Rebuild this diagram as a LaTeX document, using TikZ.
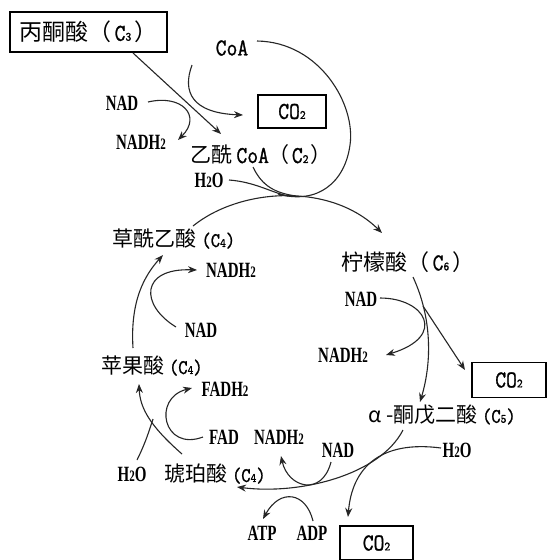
\documentclass[tikz,border=0pt]{standalone}
\usepackage{fontspec}
\usepackage{graphicx}
\usetikzlibrary{arrows.meta}
\newfontfamily\cjk{Noto Sans CJK SC}
\newfontfamily\ltt{Latin Modern Mono}[FakeBold=1.2]
\newfontfamily\lser{Liberation Serif}
\newcommand\tl[2][1.4]{\scalebox{1}[#1]{#2}}
\newcommand\lo[1]{{\fontsize{11}{11}\selectfont #1}}
\tikzset{
  lbl/.style={inner sep=0pt, text=black},
  nadlbl/.style={lbl, font=\lser\bfseries\fontsize{15}{15}\selectfont},
  coalbl/.style={lbl, font=\ltt\bfseries\fontsize{21}{21}\selectfont},
  cnlbl/.style={lbl, font=\cjk\fontsize{21}{21}\selectfont},
  boxed/.style={draw, line width=1.3pt, inner sep=0pt},
  ln/.style={line width=1.1pt, draw=black!85},
  arr/.style={ln, -{Stealth[length=9pt,width=7pt]}}
}
\newcommand\mono[1]{{\ltt\bfseries\fontsize{21}{21}\selectfont\tl[1.15]{#1}}}
\newcommand\monos[1]{{\ltt\fontsize{18}{18}\selectfont\tl[1.15]{#1}}}
\begin{document}
\begin{tikzpicture}[x=1pt,y=-1pt]
\useasboundingbox[fill=white] (0,0) rectangle (547,560);
% ---------- labels ----------
\node[boxed, minimum width=157pt, minimum height=40pt, font=\cjk\fontsize{23}{23}\selectfont] (pyr) at (88.5,32) {丙酮酸（\hspace{3pt}\mono{C\lo3}\hspace{3pt}）};
\node[coalbl] (coa) at (232,48) {\tl[1.15]{CoA}};
\node[nadlbl] (nad1) at (122,103) {\tl[1.45]{NAD}};
\node[boxed, minimum width=68pt, minimum height=33pt] (co2a) at (292,111.5) {\mono{CO\lo2}};
\node[nadlbl] (nadh1) at (141,142) {\tl[1.45]{NADH\lo2}};
\node[cnlbl] (acoa) at (261,155) {乙酰\hspace{4pt}\mono{CoA}（\hspace{2pt}\mono{C\lo2}\hspace{2pt}）};
\node[nadlbl] (h2o1) at (209,180) {\tl[1.45]{H\lo2O}};
\node[lbl, font=\cjk\fontsize{22}{22}\selectfont] (cit) at (408,262) {柠檬酸（\hspace{3pt}\mono{C\lo6}\hspace{3pt}）};
\node[nadlbl] (nad2) at (361,299) {\tl[1.45]{NAD}};
\node[nadlbl] (nadh2) at (343,355) {\tl[1.45]{NADH\lo2}};
\node[boxed, minimum width=74pt, minimum height=35pt] (co2b) at (509,380) {\mono{CO\lo2}};
\node[cnlbl] (akg) at (442,415) {α -酮戊二酸 \monos{(C\lo5)}};
\node[nadlbl] (h2o2) at (457,450) {\tl[1.45]{H\lo2O}};
\node[nadlbl] (nad3) at (338,450) {\tl[1.45]{NAD}};
\node[nadlbl] (fad) at (224,437) {\tl[1.45]{FAD}};
\node[nadlbl] (nadh3) at (279,437) {\tl[1.45]{NADH\lo2}};
\node[cnlbl] (suc) at (215,474) {琥珀酸 \monos{(C\lo4)}};
\node[nadlbl] (h2o3) at (132,474) {\tl[1.45]{H\lo2O}};
\node[nadlbl] (fadh) at (225,389) {\tl[1.45]{FADH\lo2}};
\node[cnlbl] (mal) at (152,366) {苹果酸 \monos{(C\lo4)}};
\node[nadlbl] (nad4) at (201,330) {\tl[1.45]{NAD}};
\node[nadlbl] (nadh4) at (231,270) {\tl[1.45]{NADH\lo2}};
\node[cnlbl] (oaa) at (174,239) {草酰乙酸 \monos{(C\lo4)}};
\node[nadlbl] (atp) at (262,533) {\tl[1.45]{ATP}};
\node[nadlbl] (adp) at (312,533) {\tl[1.45]{ADP}};
\node[boxed, minimum width=73pt, minimum height=34pt] (co2c) at (376.5,543) {\mono{CO\lo2}};
% ---------- end points ----------
\coordinate (p1) at (133,53);   \coordinate (p1e) at (221,134);
\coordinate (t1) at (192,65);
\coordinate (n1) at (148,102);  \coordinate (n1e) at (178,140);
\coordinate (oaaS) at (193,226); \coordinate (citN) at (382,233);
\coordinate (acS) at (253,167); \coordinate (m1) at (296,196);
\coordinate (h1) at (229,180);  \coordinate (m2) at (288,196);
\coordinate (coaE) at (257,41); \coordinate (m3) at (278,194);
\coordinate (citS) at (413,277); \coordinate (akgN) at (420,402);
\coordinate (b1) at (423,306);  \coordinate (co2bW) at (465,370);
\coordinate (n2) at (380,298);  \coordinate (n2e) at (386,355);
\coordinate (akgS) at (403,430); \coordinate (sucE) at (237,487);
\coordinate (h2) at (441,448);  \coordinate (co2cN) at (348,517);
\coordinate (n3) at (331,462);  \coordinate (n3e) at (281,456);
\coordinate (ad) at (313,521);  \coordinate (at) at (263,519);
\coordinate (sucN) at (182,454); \coordinate (malS) at (139,384);
\coordinate (h3) at (137,460);  \coordinate (m4) at (153,419);
\coordinate (fa) at (203,437);  \coordinate (fae) at (192,388);
\coordinate (malN) at (133,348); \coordinate (oaaE) at (163,255);
\coordinate (n4) at (176,327);  \coordinate (n4e) at (197,270);
% ---------- connectors ----------
\draw[arr] (p1) -- (p1e);
\draw[arr] (t1) .. controls (182,92) and (192,113) .. (243,115);
\draw[arr] (n1) .. controls (182,94) and (202,116) .. (n1e);
\draw[arr] (oaaS) .. controls (240,188) and (330,182) .. (citN);
\draw[ln] (acS) .. controls (262,186) and (275,193) .. (m1);
\draw[ln] (h1) .. controls (255,182) and (270,192) .. (m2);
\draw[ln] (coaE) .. controls (320,42) and (356,105) .. (350,145) .. controls (345,182) and (318,205) .. (m3);
\draw[arr] (citS) .. controls (432,318) and (432,362) .. (akgN);
\draw[arr] (b1) -- (co2bW);
\draw[arr] (n2) .. controls (425,298) and (448,336) .. (n2e);
\draw[arr] (akgS) .. controls (380,475) and (300,495) .. (sucE);
\draw[arr] (h2) .. controls (380,440) and (352,468) .. (co2cN);
\draw[arr] (n3) .. controls (322,497) and (288,488) .. (n3e);
\draw[arr] (ad) .. controls (306,492) and (280,488) .. (at);
\draw[arr] (sucN) .. controls (150,426) and (140,408) .. (malS);
\draw[ln] (h3) .. controls (146,442) and (150,428) .. (m4);
\draw[arr] (fa) .. controls (163,452) and (152,398) .. (fae);
\draw[arr] (malN) .. controls (130,300) and (145,275) .. (oaaE);
\draw[arr] (n4) .. controls (140,305) and (140,268) .. (n4e);
\end{tikzpicture}
\end{document}
